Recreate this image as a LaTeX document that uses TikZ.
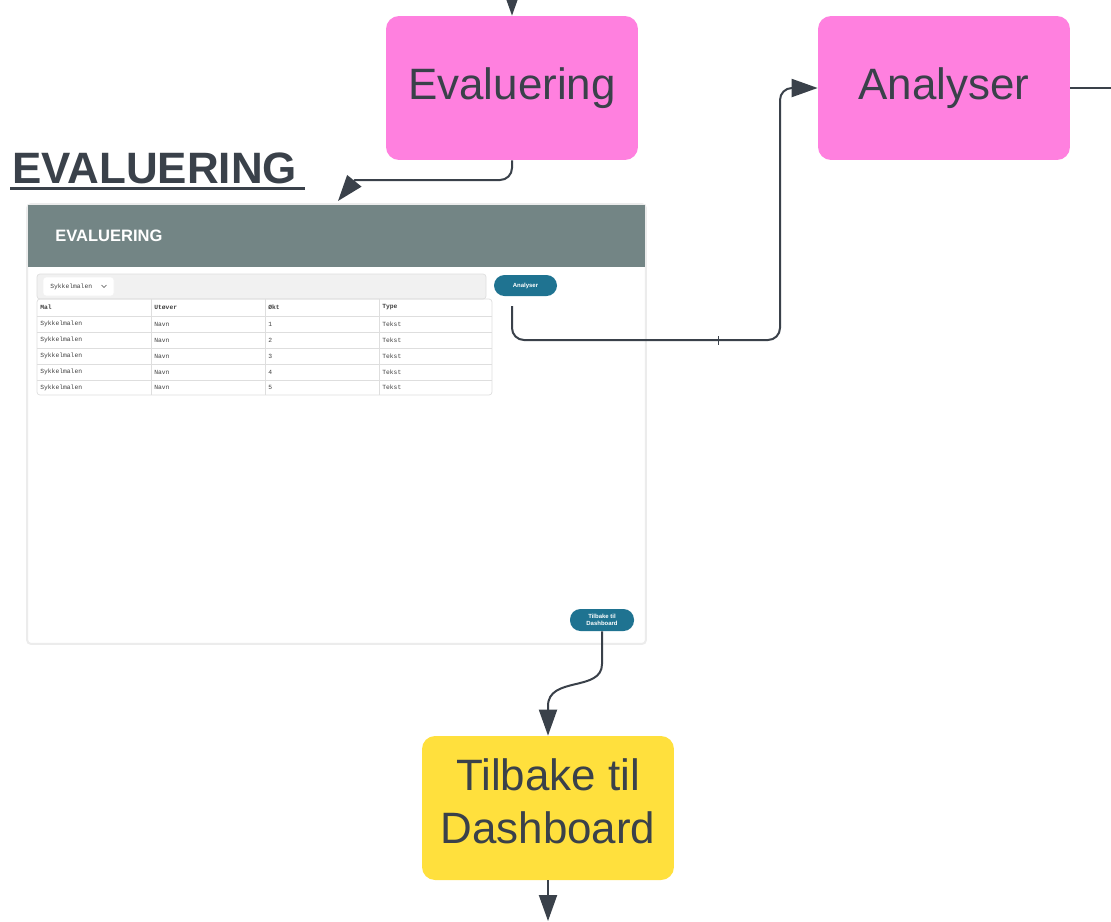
\documentclass[tikz,border=0pt]{standalone}
\usepackage{fontspec}
\setmainfont{Liberation Sans}
\setmonofont{Liberation Mono}
\usepackage{xcolor}
\usepackage{tikz}
\usetikzlibrary{arrows.meta,positioning}

\definecolor{boxpink}{HTML}{FF80DF}
\definecolor{boxyellow}{HTML}{FFE03D}
\definecolor{ink}{HTML}{3A414A}
\definecolor{headgrey}{HTML}{738585}
\definecolor{btnteal}{HTML}{1F7391}
\definecolor{barfill}{HTML}{F1F1F1}
\definecolor{gridline}{HTML}{DEDEDE}

\tikzset{
  flowbox/.style={fill=#1, rounded corners=0.26cm, minimum width=5.04cm, minimum height=2.88cm,
    text=ink, font=\fontsize{25}{30}\selectfont, align=center, inner sep=0},
  uibtn/.style={fill=btnteal, rounded corners=0.21cm, text=white,
    font=\bfseries\fontsize{3.4}{4.3}\selectfont, align=center, inner sep=0},
  link/.style={draw=ink, line width=0.04cm, -{Triangle[length=0.52cm,width=0.36cm]}},
  cell/.style={anchor=west, inner sep=0, text=black!75, font=\ttfamily\fontsize{3.6}{4}\selectfont},
}

\begin{document}
\begin{tikzpicture}[x=0.02cm, y=-0.02cm]
    \useasboundingbox (0,0) rectangle (1111,921);

    % Define nodes
    \node[flowbox=boxpink] (eval) at (512,88) {Evaluering};
    \node[flowbox=boxpink] (ana) at (944,88) {Analyser};
    \node[flowbox=boxyellow] (tbox) at (548,808) {Tilbake til\\Dashboard\rule[-0.28cm]{0pt}{0pt}};
    \node[anchor=base west, inner sep=0, text=ink, font=\bfseries\fontsize{25}{28}\selectfont] (title) at (12,183) {EVALUERING};
    \draw[ink, line width=0.06cm] ([shift={(-2,5)}]title.base west) -- ([shift={(8,5)}]title.base east);

    % screenshot of the page
    \node[draw=gray!15, line width=0.04cm, fill=white, rounded corners=0.08cm,
      minimum width=12.38cm, minimum height=8.8cm, inner sep=0] (shot) at (336.5,424) {};
    \fill[headgrey] (28,205) rectangle (645,267);
    \node[anchor=west, inner sep=0, text=white, font=\bfseries\fontsize{9.4}{11}\selectfont] (shothead) at (55,236) {EVALUERING};
    \draw[gray!25, fill=barfill, rounded corners=0.06cm] (37,274) rectangle (486,299);
    \draw[gray!10, fill=white, rounded corners=0.06cm] (43,277) rectangle (114,296);
    \node[cell] (pick) at (50,286.5) {Sykkelmalen};
    \draw[black!70, line width=0.012cm] (101.5,285) -- (104,287.5) -- (106.5,285);
    \draw[gridline, rounded corners=0.06cm] (37,299) rectangle (492,395);
    \foreach \y in {316,332,348,364,380}
        \draw[gridline] (37,\y) -- (492,\y);
    \foreach \x in {151,265,379}
        \draw[gridline] (\x,299) -- (\x,395);
    \node[cell, font=\ttfamily\bfseries\fontsize{3.6}{4}\selectfont] (h1) at (40,307.5) {Mal};
    \node[cell, font=\ttfamily\bfseries\fontsize{3.6}{4}\selectfont] (h2) at (154,307.5) {Utøver};
    \node[cell, font=\ttfamily\bfseries\fontsize{3.6}{4}\selectfont] (h3) at (268,307.5) {Økt};
    \node[cell, font=\ttfamily\bfseries\fontsize{3.6}{4}\selectfont] (h4) at (382,307.5) {Type};
    \foreach \i/\y in {1/324,2/340,3/356,4/372,5/387.5} {
        \node[cell] (r\i c1) at (40,\y) {Sykkelmalen};
        \node[cell] (r\i c2) at (154,\y) {Navn};
        \node[cell] (r\i c3) at (268,\y) {\i};
        \node[cell] (r\i c4) at (382,\y) {Tekst};
    }
    \node[uibtn, minimum width=1.26cm, minimum height=0.42cm] (abtn) at (525.5,285.5) {Analyser};
    \node[uibtn, minimum width=1.28cm, minimum height=0.44cm] (tbtn) at (602,620) {Tilbake til\\Dashboard};

    \coordinate (topin) at (512,0);
    \coordinate (astart) at (512,306);
    \coordinate (anaout) at (1111,88);
    \coordinate (botout) at (548,921);

    % Draw edges
    \draw[link] (topin) -- (eval.north);
    \draw[link] (eval.south) [rounded corners=0.24cm] -- (512,180) [sharp corners] -- (355,180) -- (338,201);
    \draw[link, rounded corners=0.24cm] (astart) |- (780,340) |- (ana.west);
    \draw[ink, line width=0.02cm] (718,336) -- (718,345);
    \draw[ink, line width=0.04cm] (ana.east) -- (anaout);
    \draw[link] (tbtn.south) -- (602,664) .. controls (602,692) and (548,676) .. (548,706) -- (tbox.north);
    \draw[link] (tbox.south) -- (botout);
\end{tikzpicture}
\end{document}
